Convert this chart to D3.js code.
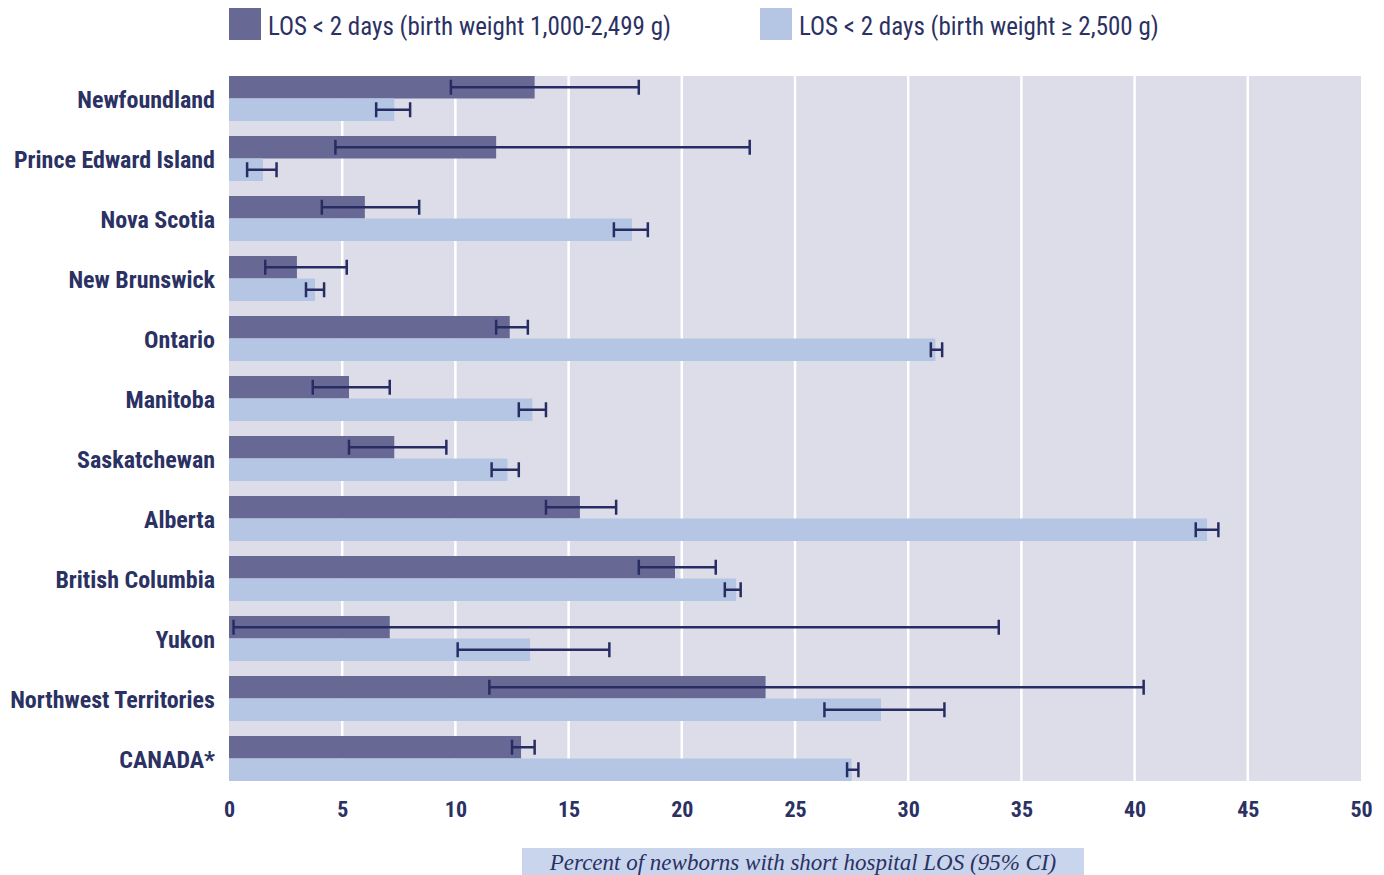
<!DOCTYPE html>
<html>
<head>
<meta charset="utf-8">
<script src="https://cdn.jsdelivr.net/npm/d3@7"></script>
<style>
  html, body { margin: 0; padding: 0; background: #ffffff; }
  svg { display: block; }
  .cond { font-family: "Liberation Sans Narrow", "Arial Narrow", "Roboto Condensed", "Liberation Sans", sans-serif; font-stretch: condensed; }
</style>
</head>
<body>
<svg id="chart" width="1384" height="875"></svg>
<script>
// Provinces / territories, top to bottom
const categories = ["Newfoundland", "Prince Edward Island", "Nova Scotia", "New Brunswick",
  "Ontario", "Manitoba", "Saskatchewan", "Alberta", "British Columbia", "Yukon",
  "Northwest Territories", "CANADA*"];

const seriesNames = ["LOS < 2 days (birth weight 1,000-2,499 g)", "LOS < 2 days (birth weight \u2265 2,500 g)"];

// Birth weight 1,000-2,499 g: estimate, lower and upper 95% CI
const lowWeight      = [13.5, 11.8, 6.0, 3.0, 12.4, 5.3, 7.3, 15.5, 19.7, 7.1, 23.7, 12.9];
const lowWeightLo    = [9.8, 4.7, 4.1, 1.6, 11.8, 3.7, 5.3, 14.0, 18.1, 0.2, 11.5, 12.5];
const lowWeightHi    = [18.1, 23.0, 8.4, 5.2, 13.2, 7.1, 9.6, 17.1, 21.5, 34.0, 40.4, 13.5];

// Birth weight >= 2,500 g: estimate, lower and upper 95% CI
const normWeight     = [7.3, 1.5, 17.8, 3.8, 31.2, 13.4, 12.3, 43.2, 22.4, 13.3, 28.8, 27.5];
const normWeightLo   = [6.5, 0.8, 17.0, 3.4, 31.0, 12.8, 11.6, 42.7, 21.9, 10.1, 26.3, 27.3];
const normWeightHi   = [8.0, 2.1, 18.5, 4.2, 31.5, 14.0, 12.8, 43.7, 22.6, 16.8, 31.6, 27.8];

const xTicks = [0, 5, 10, 15, 20, 25, 30, 35, 40, 45, 50];
const axisTitle = "Percent of newborns with short hospital LOS (95% CI)";

const colors = { dark: "#686894", light: "#b4c6e4", plotBg: "#dddde9", ink: "#2b3163", err: "#272d62", titleBg: "#c9d5ec" };

const svg = d3.select("#chart");
const margin = { left: 229, right: 23, top: 76, bottom: 94 };
const W = 1384, H = 875;

const x = d3.scaleLinear().domain([0, 50]).range([margin.left, W - margin.right]);
const y = d3.scaleBand().domain(categories).range([margin.top, H - margin.bottom]).paddingInner(0.25).paddingOuter(0);
const sub = d3.scaleBand().domain([0, 1]).range([0, y.bandwidth()]);

// Plot background
svg.append("rect")
  .attr("x", x(0)).attr("y", margin.top)
  .attr("width", x(50) - x(0)).attr("height", (H - margin.bottom) - margin.top)
  .attr("fill", colors.plotBg);

// Vertical white grid lines
svg.append("g").selectAll("line")
  .data(xTicks.filter(d => d > 0 && d < 50))
  .join("line")
  .attr("x1", d => x(d)).attr("x2", d => x(d))
  .attr("y1", margin.top).attr("y2", H - margin.bottom)
  .attr("stroke", "#ffffff").attr("stroke-width", 2.5);

const rows = categories.map((c, i) => ({
  cat: c,
  bars: [
    { s: 0, v: lowWeight[i], lo: lowWeightLo[i], hi: lowWeightHi[i] },
    { s: 1, v: normWeight[i], lo: normWeightLo[i], hi: normWeightHi[i] }
  ]
}));

const g = svg.append("g").selectAll("g").data(rows).join("g")
  .attr("transform", d => `translate(0,${y(d.cat)})`);

// Bars
g.selectAll("rect").data(d => d.bars).join("rect")
  .attr("x", x(0))
  .attr("y", d => sub(d.s))
  .attr("width", d => x(d.v) - x(0))
  .attr("height", sub.bandwidth())
  .attr("fill", d => d.s === 0 ? colors.dark : colors.light);

// Error bars (95% CI)
const eb = g.selectAll("g.eb").data(d => d.bars).join("g").attr("class", "eb")
  .attr("transform", d => `translate(0,${sub(d.s) + sub.bandwidth() / 2})`)
  .attr("stroke", colors.err).attr("stroke-width", 2.5);
eb.append("line").attr("x1", d => x(d.lo)).attr("x2", d => x(d.hi)).attr("y1", 0).attr("y2", 0);
eb.append("line").attr("x1", d => x(d.lo)).attr("x2", d => x(d.lo)).attr("y1", -7.5).attr("y2", 7.5);
eb.append("line").attr("x1", d => x(d.hi)).attr("x2", d => x(d.hi)).attr("y1", -7.5).attr("y2", 7.5);

// Category labels
svg.append("g").selectAll("text").data(categories).join("text")
  .attr("class", "cond")
  .attr("x", x(0) - 14)
  .attr("y", d => y(d) + y.bandwidth() / 2 + 1)
  .attr("dy", "0.35em")
  .attr("text-anchor", "end")
  .attr("font-size", 24).attr("font-weight", "bold")
  .attr("fill", colors.ink)
  .text(d => d);

// X axis tick labels
const axis = d3.axisBottom(x).tickValues(xTicks).tickSize(0).tickPadding(0);
const ax = svg.append("g").attr("transform", `translate(0,${H - margin.bottom + 20})`).call(axis);
ax.select(".domain").remove();
ax.selectAll("text")
  .attr("class", "cond")
  .attr("font-size", 22).attr("font-weight", "bold")
  .attr("fill", colors.ink)
  .attr("dy", "0.71em");

// Axis title in a shaded box
const tb = svg.append("g");
tb.append("rect").attr("x", 522).attr("y", 848).attr("width", 562).attr("height", 27).attr("fill", colors.titleBg);
tb.append("text")
  .attr("x", 803).attr("y", 862).attr("dy", "0.35em")
  .attr("text-anchor", "middle")
  .attr("font-family", "'Liberation Serif', 'DejaVu Serif', serif")
  .attr("font-style", "italic")
  .attr("font-size", 23)
  .attr("fill", colors.ink)
  .text(axisTitle);

// Legend
const legend = svg.append("g").selectAll("g").data(seriesNames).join("g")
  .attr("transform", (d, i) => `translate(${i === 0 ? 229 : 760},8)`);
legend.append("rect").attr("width", 32).attr("height", 32)
  .attr("fill", (d, i) => i === 0 ? colors.dark : colors.light);
legend.append("text")
  .attr("class", "cond")
  .attr("x", 39).attr("y", 18).attr("dy", "0.35em")
  .attr("font-size", 25)
  .attr("fill", colors.ink)
  .text(d => d);
</script>
</body>
</html>
